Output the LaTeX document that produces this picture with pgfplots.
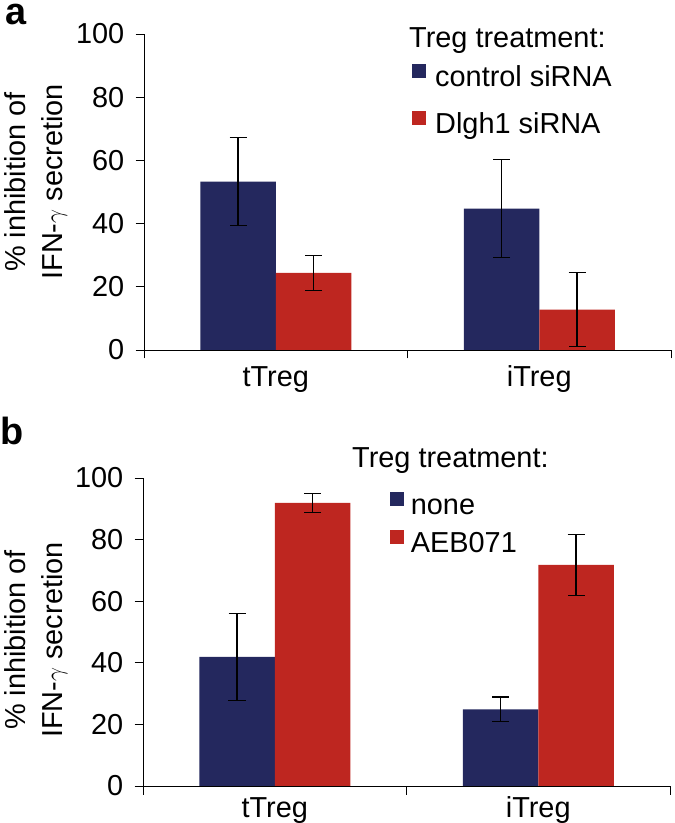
\documentclass[border=0pt]{standalone}
\usepackage{fontspec}
\setmainfont{Liberation Sans}
\usepackage{pgfplots}
\pgfplotsset{compat=1.18}
\definecolor{cblue}{RGB}{36,40,94}
\definecolor{cred}{RGB}{190,38,32}

\pgfplotsset{
  panel/.style={
    scale only axis, width=527bp,
    xmin=-0.5, xmax=1.5, ymin=0, ymax=100,
    axis x line*=bottom, axis y line*=left,
    axis line style={-, line width=0.9bp, black},
    every tick/.style={black, line width=0.9bp},
    ybar=0pt, bar width=75.5bp,
    xtick={-0.5,0.5,1.5}, xticklabels={},
    extra x ticks={0,1}, extra x tick labels={tTreg,iTreg},
    extra x tick style={major tick length=0pt},
    ytick={0,20,40,60,80,100},
    tick align=outside, major tick length=8.5bp,
    /pgf/number format/assume math mode=true,
    font=\fontsize{29}{34}\selectfont,
    yticklabel style={inner sep=0pt, xshift=-11bp},
    legend cell align=left,
    legend image code/.code={\fill[##1,draw=none] (0bp,1bp) rectangle (14bp,15bp);},
    legend style={draw=none, fill=none, inner sep=0pt, anchor=north west,
      nodes={inner sep=0pt, text height=21bp, text depth=6bp},
      font=\fontsize{29}{34}\selectfont},
    error bars/y dir=both, error bars/y explicit,
    error bars/error bar style={line width=1.1bp, black},
    error bars/error mark options={rotate=90, mark size=8.5bp, line width=1.1bp, black},
  }
}

\begin{document}
\begin{tikzpicture}
\useasboundingbox (0,0) rectangle (675bp,823bp);

% ---------------- panel a ----------------
\begin{axis}[panel, height=316bp, at={(144bp,473bp)}, anchor=south west,
  ylabel={\% inhibition of\\IFN-$\gamma$ secretion},
  every axis y label/.style={at={(axis description cs:-0.205,0.532)}, rotate=90, anchor=center,
     align=center, font=\fontsize{29}{37}\selectfont},
  xticklabel style={anchor=base, inner sep=0pt, yshift=-37bp},
  legend style={at={(axis description cs:0.5085,0.905)}, /tikz/row sep=18bp, /tikz/column sep=9bp}]
\addplot[fill=cblue, draw=none] coordinates {(0,53.3) +- (0,14.0) (1,44.7) +- (0,15.5)};
\addplot[fill=cred, draw=none] coordinates {(0,24.4) +- (0,5.6) (1,12.8) +- (0,11.7)};
\legend{control siRNA, Dlgh1 siRNA}
\end{axis}
\node[anchor=base west, inner sep=0pt, font=\fontsize{29}{34}\selectfont] at (409bp,775bp) {Treg treatment:};
\node[anchor=base west, inner sep=0pt, font=\fontsize{38}{40}\bfseries] at (5bp,798bp) {a};

% ---------------- panel b ----------------
\begin{axis}[panel, height=308bp, at={(143bp,37bp)}, anchor=south west,
  ylabel={\% inhibition of\\IFN-$\gamma$ secretion},
  every axis y label/.style={at={(axis description cs:-0.203,0.474)}, rotate=90, anchor=center,
     align=center, font=\fontsize{29}{37}\selectfont},
  xticklabel style={anchor=base, inner sep=0pt, yshift=-31bp},
  legend style={at={(axis description cs:0.468,0.9545)}, /tikz/row sep=9bp, /tikz/column sep=7bp}]
\addplot[fill=cblue, draw=none] coordinates {(0,41.9) +- (0,14.1) (1,24.9) +- (0,4.0)};
\addplot[fill=cred, draw=none] coordinates {(0,91.9) +- (0,3.1) (1,71.8) +- (0,10.0)};
\legend{none, AEB071}
\end{axis}
\node[anchor=base west, inner sep=0pt, font=\fontsize{29}{34}\selectfont] at (352bp,355bp) {Treg treatment:};
\node[anchor=base west, inner sep=0pt, font=\fontsize{38}{40}\bfseries] at (0bp,378bp) {b};
\end{tikzpicture}
\end{document}
